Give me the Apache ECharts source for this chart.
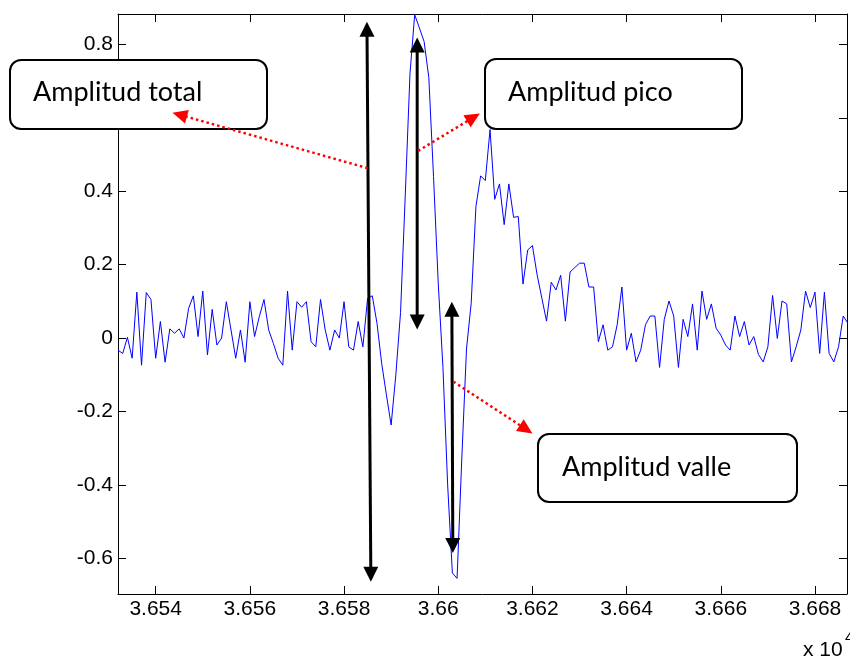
<!DOCTYPE html>
<html>
<head>
<meta charset="utf-8">
<script src="https://cdn.jsdelivr.net/npm/echarts@6/dist/echarts.min.js"></script>
<style>
html, body { margin: 0; padding: 0; background: #fff; }
#root { width: 850px; height: 662px; }
</style>
</head>
<body>
<div id="root"></div>
<script>
// one sample per unit, first sample at 36532 (axis shown in x 10^4)
const sampleStart = 36532;
const amplitude = [
  -0.033, -0.042, 0.002, -0.055, 0.125, -0.074, 0.124, 0.105, -0.055, 0.045,
  -0.066, 0.025, 0.013, 0.025, 0.000, 0.081, 0.115, 0.004, 0.128, -0.046,
  0.078, -0.019, 0.000, 0.099, 0.022, -0.055, 0.022, -0.066, 0.099, 0.004,
  0.058, 0.105, 0.022, -0.015, -0.055, -0.074, 0.128, -0.033, 0.099, 0.084,
  0.099, -0.010, -0.024, 0.105, 0.022, -0.033, 0.022, 0.000, 0.099, -0.024,
  -0.033, 0.045, -0.024, 0.108, 0.115, 0.040, -0.070, -0.155, -0.237, -0.100,
  0.070, 0.390, 0.720, 0.881, 0.845, 0.808, 0.710, 0.440, 0.150, -0.080,
  -0.400, -0.640, -0.655, -0.330, -0.030, 0.095, 0.358, 0.442, 0.429, 0.568,
  0.378, 0.420, 0.309, 0.420, 0.329, 0.331, 0.147, 0.240, 0.252, 0.172,
  0.109, 0.046, 0.152, 0.131, 0.171, 0.046, 0.180, 0.192, 0.204, 0.204,
  0.139, 0.139, -0.010, 0.036, -0.033, -0.024, 0.036, 0.139, -0.033, 0.013,
  -0.065, -0.033, 0.036, 0.060, 0.060, -0.080, 0.051, 0.101, 0.060, -0.080,
  0.051, 0.004, 0.093, -0.033, 0.128, 0.051, 0.093, 0.027, 0.008, -0.019,
  -0.033, 0.060, 0.004, 0.045, -0.019, 0.004, -0.045, -0.065, -0.024, 0.116,
  -0.001, 0.101, 0.093, -0.065, -0.024, 0.022, 0.128, 0.083, 0.125, -0.042,
  0.125, -0.042, -0.065, -0.024, 0.060, 0.040
];

const xTicks = [36540, 36560, 36580, 36600, 36620, 36640, 36660, 36680];
const xTickLabels = ['3.654', '3.656', '3.658', '3.66', '3.662', '3.664', '3.666', '3.668'];
const yTicks = [-0.6, -0.4, -0.2, 0, 0.2, 0.4, 0.6, 0.8];
const yTickLabels = ['-0.6', '-0.4', '-0.2', '0', '0.2', '0.4', '0.6', '0.8'];

// annotations, in data units
const blackArrows = [
  [[36584.86, 0.862], [36585.70, -0.664]],
  [[36595.53, 0.819], [36595.53, 0.023]],
  [[36602.89, 0.099], [36603.10, -0.586]]
];
const redArrows = [ // [from, tip]
  [[36585.00, 0.463], [36543.57, 0.614]],
  [[36595.74, 0.510], [36608.84, 0.612]],
  [[36603.24, -0.119], [36620.00, -0.260]]
];
const boxLabels = ['Amplitud total', 'Amplitud pico', 'Amplitud valle'];

const root = document.getElementById('root');
const chart = echarts.init(root);

function pickLabel(ticks, labels) {
  return function (v) {
    for (let i = 0; i < ticks.length; i++) {
      if (Math.abs(ticks[i] - v) < 1e-6) return labels[i];
    }
    return '';
  };
}

const axisFont = { fontFamily: 'Liberation Sans', fontSize: 21, color: '#000' };
const lineBlack = { lineStyle: { color: '#000', width: 1 } };

function xAx(pos, showLabel) {
  return {
    type: 'value', position: pos, min: 36532, max: 36686.8,
    splitNumber: 8, minInterval: 20, maxInterval: 20,
    axisLine: Object.assign({ show: true, onZero: false }, lineBlack),
    axisTick: Object.assign({ show: true, inside: true, length: 8 }, lineBlack),
    axisLabel: Object.assign({ show: showLabel, margin: 5, formatter: pickLabel(xTicks, xTickLabels) }, axisFont),
    splitLine: { show: false }
  };
}
function yAx(pos, showLabel) {
  return {
    type: 'value', position: pos, min: -0.6975, max: 0.883,
    splitNumber: 8, minInterval: 0.2, maxInterval: 0.2,
    axisLine: Object.assign({ show: true, onZero: false }, lineBlack),
    axisTick: Object.assign({ show: true, inside: true, length: 8 }, lineBlack),
    axisLabel: Object.assign({ show: showLabel, margin: 5, formatter: pickLabel(yTicks, yTickLabels) }, axisFont),
    splitLine: { show: false }
  };
}

const seriesData = amplitude.map((v, i) => [sampleStart + i, v]);

chart.setOption({
  animation: false,
  grid: { left: 118, top: 14, width: 736, height: 580, containLabel: false },
  xAxis: [xAx('bottom', true), xAx('top', false)],
  yAxis: [yAx('left', true), yAx('right', false)],
  series: [{
    type: 'line',
    data: seriesData,
    symbol: 'none',
    clip: true,
    lineStyle: { color: '#0000ff', width: 1 }
  }]
});

function toPx(p) { return chart.convertToPixel({ gridIndex: 0 }, p); }

function headPoints(tip, from, len, wid) {
  const dx = tip[0] - from[0], dy = tip[1] - from[1];
  const d = Math.sqrt(dx * dx + dy * dy);
  const ux = dx / d, uy = dy / d;
  const bx = tip[0] - ux * len, by = tip[1] - uy * len;
  return [tip, [bx - uy * wid / 2, by + ux * wid / 2], [bx + uy * wid / 2, by - ux * wid / 2]];
}
function back(tip, from, len) {
  const dx = tip[0] - from[0], dy = tip[1] - from[1];
  const d = Math.sqrt(dx * dx + dy * dy);
  return [tip[0] - dx / d * len, tip[1] - dy / d * len];
}

const g = [];
blackArrows.forEach(a => {
  const p1 = toPx(a[0]), p2 = toPx(a[1]);
  g.push({ type: 'polyline', z: 100, shape: { points: [back(p1, p2, 12), back(p2, p1, 12)] },
    style: { stroke: '#000', lineWidth: 3, fill: null } });
  g.push({ type: 'polygon', z: 101, shape: { points: headPoints(p1, p2, 15, 15) }, style: { fill: '#000' } });
  g.push({ type: 'polygon', z: 101, shape: { points: headPoints(p2, p1, 15, 15) }, style: { fill: '#000' } });
});
// red arrows sit above the boxes
redArrows.forEach(a => {
  const p1 = toPx(a[0]), p2 = toPx(a[1]);
  g.push({ type: 'polyline', z: 120, shape: { points: [p1, back(p2, p1, 12)] },
    style: { stroke: '#ff0000', lineWidth: 2.5, lineDash: [2.5, 3], fill: null } });
  g.push({ type: 'polygon', z: 121, shape: { points: headPoints(p2, p1, 15, 14) }, style: { fill: '#ff0000' } });
});

const boxes = [
  { x: 10, y: 60, w: 257, h: 69, tx: 33, ty: 92 },
  { x: 485, y: 59, w: 257, h: 70, tx: 508, ty: 92 },
  { x: 538, y: 434, w: 259, h: 68, tx: 562, ty: 467 }
];
boxes.forEach((b, i) => {
  g.push({ type: 'rect', z: 110, shape: { x: b.x, y: b.y, width: b.w, height: b.h, r: 11 },
    style: { fill: '#fff', stroke: '#000', lineWidth: 2 } });
  g.push({ type: 'text', z: 111, style: { text: boxLabels[i], x: b.tx, y: b.ty,
    font: '27px Lato', fill: '#000', verticalAlign: 'middle', align: 'left' } });
});

g.push({ type: 'text', z: 111, style: { text: 'x 10', x: 803, y: 661, font: '21px "Liberation Sans"',
  fill: '#000', verticalAlign: 'bottom' } });
g.push({ type: 'text', z: 111, style: { text: '4', x: 845, y: 645, font: '15px "Liberation Sans"',
  fill: '#000', verticalAlign: 'bottom' } });

chart.setOption({ graphic: g });
</script>
</body>
</html>
